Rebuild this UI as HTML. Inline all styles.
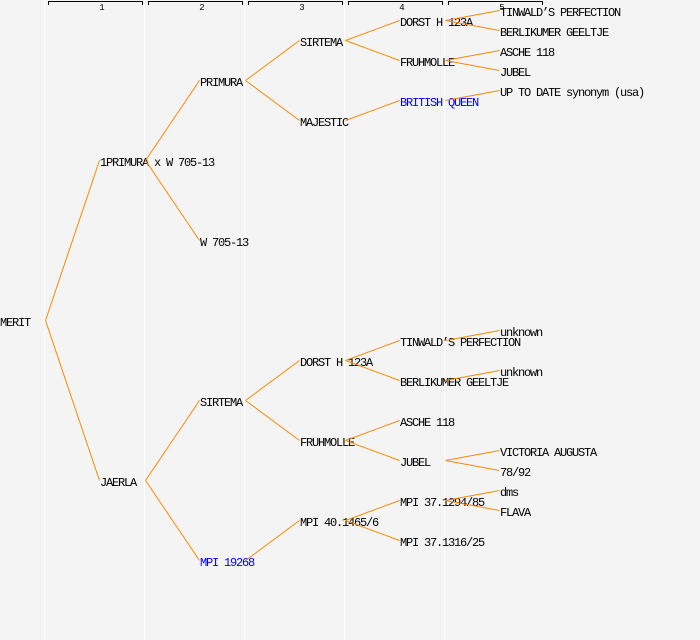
<!DOCTYPE html>
<html><head><meta charset="utf-8"><style>
html,body{margin:0;padding:0;background:#f4f4f4;}
svg{display:block;}
text{font-family:"Liberation Mono",monospace;font-size:12px;letter-spacing:-1.2px;fill:#000;}
.b{fill:#0000ff;}
.h{font-size:9px;letter-spacing:0;text-anchor:middle;}
</style></head><body>
<svg width="700" height="640" viewBox="0 0 700 640" xmlns="http://www.w3.org/2000/svg">
<rect width="700" height="640" fill="#f4f4f4"/>
<g fill="#ffffff">
<rect x="44" y="0" width="1" height="640"/>
<rect x="144" y="0" width="1" height="640"/>
<rect x="244" y="0" width="1" height="640"/>
<rect x="344" y="0" width="1" height="640"/>
<rect x="444" y="0" width="1" height="640"/>
</g>
<g fill="#000">
<rect x="48" y="1" width="95" height="1"/><rect x="48" y="1" width="1" height="4"/><rect x="142" y="1" width="1" height="4"/>
<rect x="148" y="1" width="95" height="1"/><rect x="148" y="1" width="1" height="4"/><rect x="242" y="1" width="1" height="4"/>
<rect x="248" y="1" width="95" height="1"/><rect x="248" y="1" width="1" height="4"/><rect x="342" y="1" width="1" height="4"/>
<rect x="348" y="1" width="95" height="1"/><rect x="348" y="1" width="1" height="4"/><rect x="442" y="1" width="1" height="4"/>
<rect x="448" y="1" width="95" height="1"/><rect x="448" y="1" width="1" height="4"/><rect x="542" y="1" width="1" height="4"/>
</g>
<text class="h" x="102" y="10">1</text>
<text class="h" x="202" y="10">2</text>
<text class="h" x="302" y="10">3</text>
<text class="h" x="402" y="10">4</text>
<text class="h" x="502" y="10">5</text>

<!-- gen 0 -->
<text x="0" y="326">MERIT</text>
<!-- gen 1 -->
<text x="100" y="166">1PRIMURA x W 705-13</text>
<text x="100" y="486">JAERLA</text>
<!-- gen 2 -->
<text x="200" y="86">PRIMURA</text>
<text x="200" y="246">W 705-13</text>
<text x="200" y="406">SIRTEMA</text>
<text class="b" x="200" y="566">MPI 19268</text>
<!-- gen 3 -->
<text x="300" y="46">SIRTEMA</text>
<text x="300" y="126">MAJESTIC</text>
<text x="300" y="366">DORST H 123A</text>
<text x="300" y="446">FRUHMOLLE</text>
<text x="300" y="526">MPI 40.1465/6</text>
<!-- gen 4 -->
<text x="400" y="26">DORST H 123A</text>
<text x="400" y="66">FRUHMOLLE</text>
<text class="b" x="400" y="106">BRITISH QUEEN</text>
<text x="400" y="346">TINWALD’S PERFECTION</text>
<text x="400" y="386">BERLIKUMER GEELTJE</text>
<text x="400" y="426">ASCHE 118</text>
<text x="400" y="466">JUBEL</text>
<text x="400" y="506">MPI 37.1294/85</text>
<text x="400" y="546">MPI 37.1316/25</text>
<!-- gen 5 -->
<text x="500" y="16">TINWALD’S PERFECTION</text>
<text x="500" y="36">BERLIKUMER GEELTJE</text>
<text x="500" y="56">ASCHE 118</text>
<text x="500" y="76">JUBEL</text>
<text x="500" y="96">UP TO DATE synonym (usa)</text>
<text x="500" y="336">unknown</text>
<text x="500" y="376">unknown</text>
<text x="500" y="456">VICTORIA AUGUSTA</text>
<text x="500" y="476">78/92</text>
<text x="500" y="496">dms</text>
<text x="500" y="516">FLAVA</text>

<g stroke="#ff8800" stroke-width="1" fill="none">
<path d="M45.5 320.5 L99.5 160.5 M45.5 320.5 L99.5 480.5"/>
<path d="M145.5 160.5 L199.5 80.5 M145.5 160.5 L199.5 240.5"/>
<path d="M145.5 480.5 L199.5 400.5 M145.5 480.5 L199.5 560.5"/>
<path d="M245.5 80.5 L299.5 40.5 M245.5 80.5 L299.5 120.5"/>
<path d="M245.5 400.5 L299.5 360.5 M245.5 400.5 L299.5 440.5"/>
<path d="M245.5 560.5 L299.5 520.5"/>
<path d="M345.5 40.5 L399.5 20.5 M345.5 40.5 L399.5 60.5"/>
<path d="M345.5 120.5 L399.5 100.5"/>
<path d="M345.5 360.5 L399.5 340.5 M345.5 360.5 L399.5 380.5"/>
<path d="M345.5 440.5 L399.5 420.5 M345.5 440.5 L399.5 460.5"/>
<path d="M345.5 520.5 L399.5 500.5 M345.5 520.5 L399.5 540.5"/>
<path d="M445.5 20.5 L499.5 10.5 M445.5 20.5 L499.5 30.5"/>
<path d="M445.5 60.5 L499.5 50.5 M445.5 60.5 L499.5 70.5"/>
<path d="M445.5 100.5 L499.5 90.5"/>
<path d="M445.5 340.5 L499.5 330.5"/>
<path d="M445.5 380.5 L499.5 370.5"/>
<path d="M445.5 460.5 L499.5 450.5 M445.5 460.5 L499.5 470.5"/>
<path d="M445.5 500.5 L499.5 490.5 M445.5 500.5 L499.5 510.5"/>
</g>
</svg>
</body></html>
